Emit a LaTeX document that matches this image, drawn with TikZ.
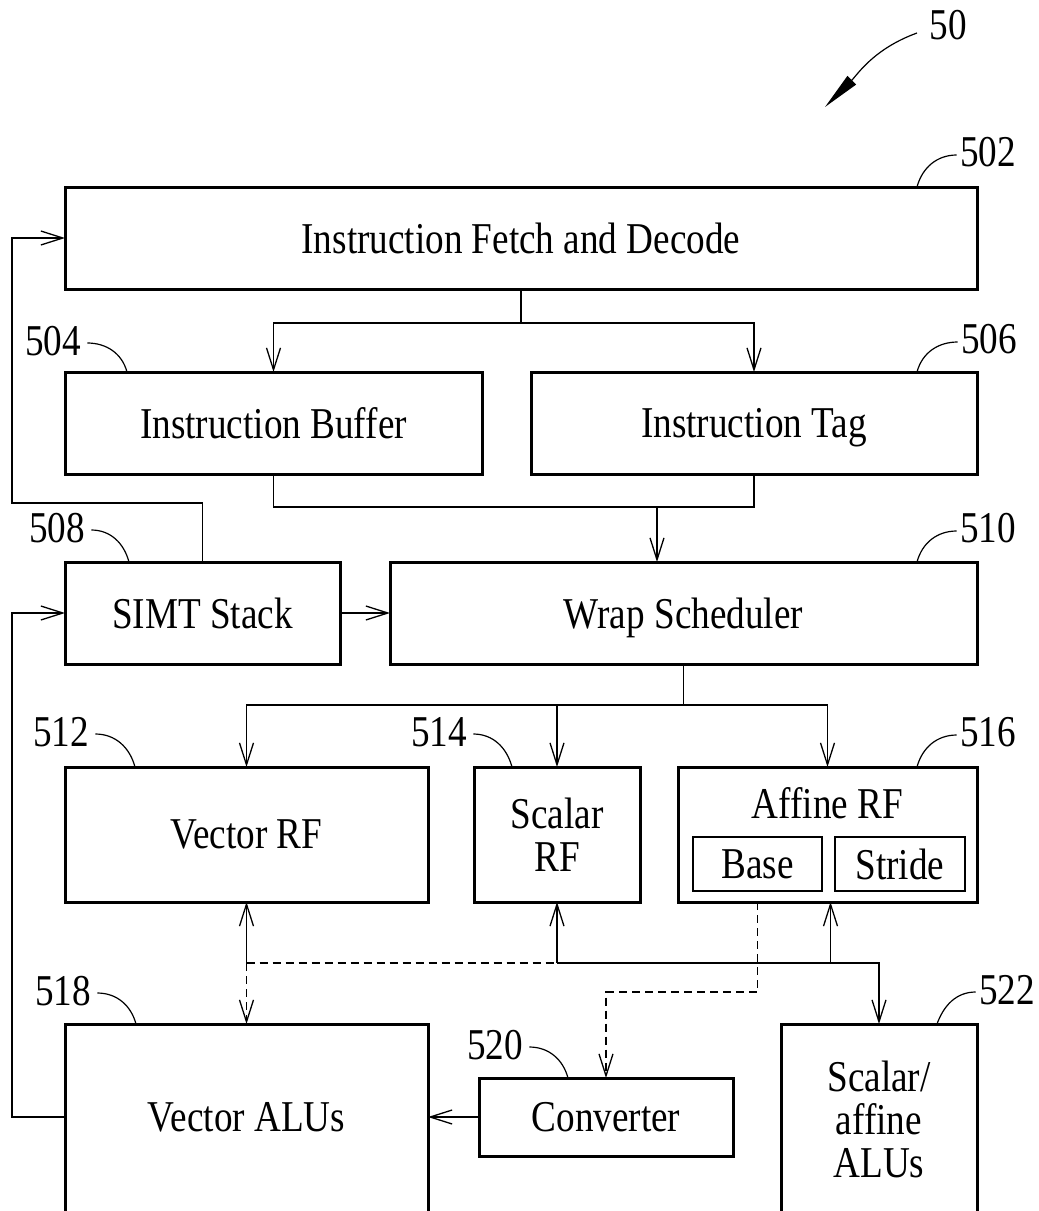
\documentclass[tikz,border=0pt]{standalone}
\usepackage{fontspec}
\setmainfont{Liberation Serif}[FakeStretch=0.845]
\usetikzlibrary{arrows.meta}
\usetikzlibrary{positioning}

\tikzset{
  blk/.style={draw, line width=1.5pt, inner sep=0pt, outer sep=0pt, align=center,
    text depth=0pt, font=\fontsize{22}{21.5}\selectfont},
  openblk/.style={blk, draw=none},
  txt/.style={inner sep=0pt, align=center, text depth=0pt, font=\fontsize{22}{21.5}\selectfont},
  conn/.style={line width=0.65pt},
  dconn/.style={conn, dash pattern=on 4pt off 2.5pt},
  lead/.style={line width=0.6pt},
}

\begin{document}
\begin{tikzpicture}[x=0.5pt, y=-0.5pt, >={Straight Barb[length=11pt,width=7pt]}]
    \useasboundingbox (0,0) rectangle (1039,1211);
    \clip (0,0) rectangle (1039,1211);

    % blocks
    \node[blk, minimum width=456pt, minimum height=51pt] (fetch) at (521,238) {Instruction Fetch and Decode};
    \node[blk, minimum width=208.5pt, minimum height=51pt, below right=41.5pt and 0pt of fetch.south west] (ibuf) {Instruction Buffer};
    \node[blk, minimum width=223pt, minimum height=51pt, right=24.5pt of ibuf] (itag) {Instruction Tag};
    \node[blk, minimum width=137.5pt, minimum height=51pt, below right=44pt and 0pt of ibuf.south west] (simt) {SIMT Stack};
    \node[blk, minimum width=293.5pt, minimum height=51pt, right=25pt of simt] (wrap) {Wrap Scheduler};

    \node[blk, minimum width=181.5pt, minimum height=67.5pt, below right=51.5pt and 0pt of simt.south west] (vrf) {Vector RF};
    \node[blk, minimum width=83pt, minimum height=67.5pt, right=23pt of vrf] (srf) {Scalar\\RF};
    \node[blk, minimum width=149.5pt, minimum height=67.5pt, right=19pt of srf] (arf) {};
    \node[txt, below=10pt of arf.north] (arft) {Affine RF};
    \node[blk, line width=1.2pt, minimum width=64.5pt, minimum height=27pt, above right=5.5pt and 7.5pt of arf.south west] (base) {Base};
    \node[blk, line width=1.2pt, minimum width=65pt, minimum height=27pt, right=6.5pt of base] (stride) {Stride};

    \node[openblk, minimum width=181.5pt, minimum height=93pt, below right=61pt and 0pt of vrf.south west] (valu) {Vector ALUs};
    \node[blk, minimum width=127pt, minimum height=39pt, right=25.5pt of valu] (conv) {Converter};
    \node[openblk, minimum width=98pt, minimum height=95.5pt, below left=61pt and 0pt of arf.south east] (salu) {Scalar/\\affine\\ALUs};
    \draw[line width=1.5pt] (valu.south west) -- ++(0,200) (valu.south west) |- (valu.north) -| (valu.south east) -- ++(0,200);
    \draw[line width=1.5pt] (salu.south west) -- ++(0,200) (salu.south west) |- (salu.north) -| (salu.south east) -- ++(0,200);

    % connectors
    \draw[conn] (fetch.south) -- ++(0,34) coordinate (fsplit);
    \draw[conn,->] (fsplit) -| (ibuf.north);
    \draw[conn,->] (fsplit) -| (itag.north);

    \coordinate (join) at (657,507);
    \draw[conn] (ibuf.south) |- (join) -| (itag.south);
    \draw[conn,->] (join) -- (join |- wrap.north);

    \draw[conn,->] (simt) -- (wrap);
    \draw[conn,->] (simt.north) -- ++(0,-59) -- ++(-190.5,0) |- (fetch.west);
    \draw[conn,->] (valu.west) -- ++(-53,0) |- (simt.west);

    \draw[conn] (wrap.south) -- ++(0,41) coordinate (wsplit);
    \draw[conn,->] (wsplit) -| (vrf.north);
    \draw[conn,->] (wsplit) -| (srf.north);
    \draw[conn,->] (wsplit) -| (arf.north);

    \coordinate (bus) at (0,963);
    \draw[conn,->] (vrf.south |- bus) -- (vrf.south);
    \draw[dconn,->] (vrf.south |- bus) -- (valu.north);
    \draw[dconn] (vrf.south |- bus) -- (srf.south |- bus);
    \draw[conn,->] (srf.south |- bus) -- (srf.south);
    \draw[conn,->] (srf.south |- bus) -| (salu.north);
    \draw[conn,->] ([xshift=1.5pt]arf.south |- bus) -- ([xshift=1.5pt]arf.south);
    \draw[dconn,->] (arf.south -| base.south) -- ++(0,90) -| (conv.north);
    \draw[conn,->] (conv) -- (valu);

    % reference numerals
    \node[txt] (n50) at (948,25) {50};
    \coordinate (tip50) at (825,107);
    \draw[lead, -{Triangle[length=19pt,width=6pt]}] ([xshift=-6pt,yshift=-4pt]n50.west) to[out=200,in=45] (tip50);

    \node[txt] (n502) at (988,152) {502};
    \draw[lead] ([xshift=-1.5pt,yshift=-1.5pt]n502.west) to[out=180,in=75] ([xshift=-30pt]fetch.north east);
    \node[txt] (n504) at (53,341) {504};
    \draw[lead] ([xshift=3pt,yshift=-1pt]n504.east) to[out=0,in=105] ([xshift=31pt]ibuf.north west);
    \node[txt] (n506) at (989,339) {506};
    \draw[lead] ([xshift=-1.5pt,yshift=-1.5pt]n506.west) to[out=180,in=75] ([xshift=-30pt]itag.north east);
    \node[txt] (n508) at (57,528) {508};
    \draw[lead] ([xshift=3pt,yshift=-1pt]n508.east) to[out=0,in=105] ([xshift=32pt]simt.north west);
    \node[txt] (n510) at (988,528) {510};
    \draw[lead] ([xshift=-1.5pt,yshift=-1.5pt]n510.west) to[out=180,in=75] ([xshift=-30pt]wrap.north east);
    \node[txt] (n512) at (61,732) {512};
    \draw[lead] ([xshift=3pt,yshift=-1pt]n512.east) to[out=0,in=105] ([xshift=35pt]vrf.north west);
    \node[txt] (n514) at (439,732) {514};
    \draw[lead] ([xshift=3pt,yshift=-1pt]n514.east) to[out=0,in=105] ([xshift=19pt]srf.north west);
    \node[txt] (n516) at (988,732) {516};
    \draw[lead] ([xshift=-1.5pt,yshift=-1.5pt]n516.west) to[out=180,in=75] ([xshift=-30pt]arf.north east);
    \node[txt] (n518) at (63,991) {518};
    \draw[lead] ([xshift=3pt,yshift=-1pt]n518.east) to[out=0,in=105] ([xshift=35.5pt]valu.north west);
    \node[txt] (n520) at (495,1045) {520};
    \draw[lead] ([xshift=3pt,yshift=-1pt]n520.east) to[out=0,in=105] ([xshift=44.5pt]conv.north west);
    \node[txt] (n522) at (1007,990) {522};
    \draw[lead] ([xshift=-1.5pt,yshift=-1pt]n522.west) to[out=180,in=70] ([xshift=-20pt]salu.north east);
\end{tikzpicture}
\end{document}
